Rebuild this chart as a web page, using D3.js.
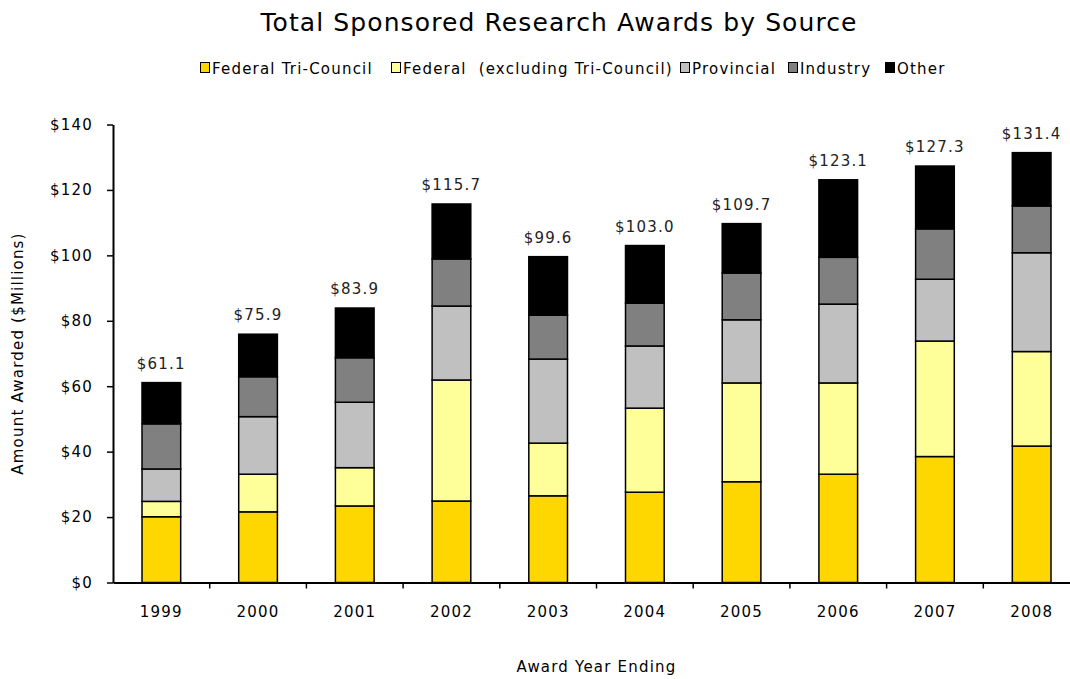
<!DOCTYPE html>
<html>
<head>
<meta charset="utf-8">
<script src="https://cdn.jsdelivr.net/npm/d3@7"></script>
<style>
  body { margin: 0; background: #fff; }
  svg { display: block; }
  text { font-family: "DejaVu Sans", Verdana, sans-serif; letter-spacing: 1.2px; }
</style>
</head>
<body>
<svg id="chart" width="1070" height="679"></svg>
<script>
// Award years and per-source amounts ($ millions)
const years = ["1999", "2000", "2001", "2002", "2003", "2004", "2005", "2006", "2007", "2008"];
const triCouncil = [20.1, 21.6, 23.4, 24.9, 26.5, 27.6, 30.8, 33.1, 38.5, 41.7];
const federalOther = [4.7, 11.5, 11.7, 37.0, 16.1, 25.7, 30.2, 27.9, 35.3, 28.9];
const provincial = [9.9, 17.6, 20.0, 22.6, 25.7, 19.0, 19.3, 24.1, 18.9, 30.2];
const industry = [13.8, 12.2, 13.6, 14.4, 13.4, 13.1, 14.3, 14.3, 15.4, 14.3];
const other = [12.6, 13.0, 15.2, 16.8, 17.9, 17.6, 15.1, 23.7, 19.2, 16.3];
const totals = [61.1, 75.9, 83.9, 115.7, 99.6, 103.0, 109.7, 123.1, 127.3, 131.4];
const yTicks = [0, 20, 40, 60, 80, 100, 120, 140];

const seriesNames = ["Federal Tri-Council", "Federal  (excluding Tri-Council)", "Provincial", "Industry", "Other"];
const seriesValues = [triCouncil, federalOther, provincial, industry, other];
const colors = ["#FFD700", "#FFFF99", "#C0C0C0", "#808080", "#000000"];

const svg = d3.select("#chart");
const plot = { left: 113, right: 1080, top: 124.5, bottom: 582.5 };
const FONT = "DejaVu Sans, Verdana, sans-serif";

const rows = years.map((y, i) => {
  const r = { year: y };
  seriesNames.forEach((s, k) => { r[s] = seriesValues[k][i]; });
  return r;
});
const stacked = d3.stack().keys(seriesNames)(rows);

const x = d3.scaleBand().domain(years)
  .range([plot.left, plot.right])
  .paddingInner(0.6).paddingOuter(0.3);
const y = d3.scaleLinear().domain([0, 140]).range([plot.bottom, plot.top]);

// Title
svg.append("text")
  .attr("x", 559).attr("y", 31)
  .attr("text-anchor", "middle")
  .attr("font-size", 25)
  .style("letter-spacing", "1.1px")
  .attr("fill", "#000")
  .text("Total Sponsored Research Awards by Source");

// Legend
const legendX = [200, 391, 680, 788, 885];
const legend = svg.append("g");
seriesNames.forEach((s, k) => {
  const g = legend.append("g").attr("transform", `translate(${legendX[k]},68)`);
  g.append("rect").attr("x", 0.5).attr("y", -5.5).attr("width", 9).attr("height", 10)
    .attr("fill", colors[k]).attr("stroke", "#000").attr("stroke-width", 1);
  g.append("text").attr("x", 12).attr("y", 5.5)
    .attr("font-size", 15).attr("fill", "#000")
    .style("white-space", "pre")
    .text(s);
});

// Stacked bars
const layers = svg.append("g").selectAll("g")
  .data(stacked).join("g")
  .attr("fill", (d, k) => colors[k]);
layers.selectAll("rect")
  .data(d => d).join("rect")
  .attr("x", d => x(d.data.year))
  .attr("y", d => y(d[1]))
  .attr("width", x.bandwidth())
  .attr("height", d => y(d[0]) - y(d[1]))
  .attr("stroke", "#000")
  .attr("stroke-width", 1.5);

// Total labels
svg.append("g").selectAll("text")
  .data(years).join("text")
  .attr("x", d => x(d) + x.bandwidth() / 2)
  .attr("y", (d, i) => y(totals[i]) - 14)
  .attr("text-anchor", "middle")
  .attr("font-size", 15)
  .attr("fill", "#222")
  .text((d, i) => "$" + totals[i].toFixed(1));

// Y axis
const yAxis = svg.append("g")
  .attr("transform", `translate(${plot.left},0)`)
  .call(d3.axisLeft(y).tickValues(yTicks).tickSize(6).tickPadding(14)
    .tickSizeOuter(0).tickFormat(d => "$" + d));
yAxis.select(".domain").attr("stroke-width", 2);
yAxis.selectAll(".tick line").attr("stroke-width", 1.5);
yAxis.selectAll("text").attr("font-size", 15).attr("fill", "#000")
  .attr("font-family", FONT);

// X axis
const xAxis = svg.append("g")
  .attr("transform", `translate(0,${plot.bottom})`)
  .call(d3.axisBottom(x).tickSize(0).tickPadding(24).tickSizeOuter(0));
xAxis.select(".domain").attr("stroke-width", 2);
xAxis.selectAll("text").attr("font-size", 15).attr("fill", "#000")
  .attr("font-family", FONT);
// Category separator ticks
xAxis.selectAll(".sep")
  .data(d3.range(1, years.length))
  .join("line")
  .attr("x1", i => plot.left + i * x.step())
  .attr("x2", i => plot.left + i * x.step())
  .attr("y1", 0).attr("y2", 6)
  .attr("stroke", "#000").attr("stroke-width", 1.5);

// Axis titles
svg.append("text")
  .attr("x", (plot.left + plot.right) / 2).attr("y", 672)
  .attr("text-anchor", "middle").attr("font-size", 15).attr("fill", "#000")
  .text("Award Year Ending");
svg.append("text")
  .attr("transform", `translate(23,${(plot.top + plot.bottom) / 2}) rotate(-90)`)
  .attr("text-anchor", "middle").attr("font-size", 15).attr("fill", "#000")
  .text("Amount Awarded ($Millions)");
</script>
</body>
</html>
